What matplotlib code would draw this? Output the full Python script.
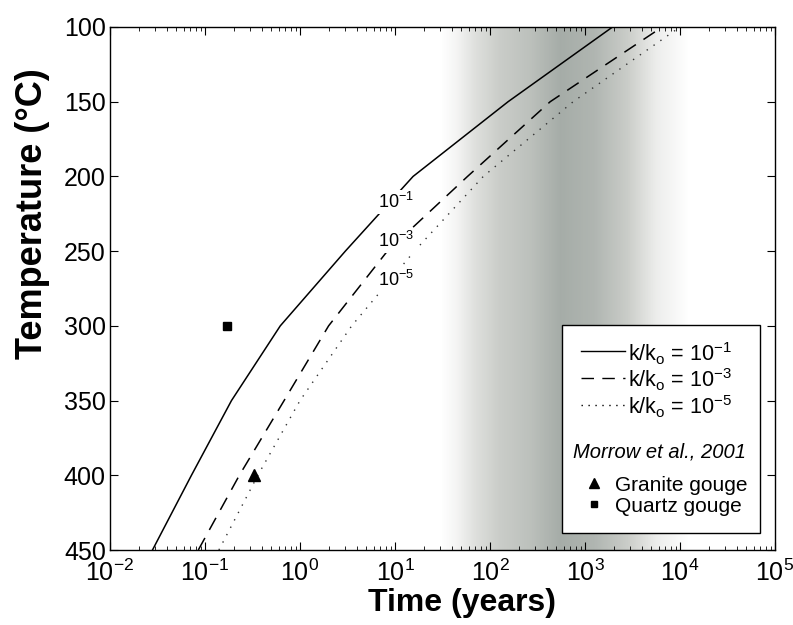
import numpy as np
import matplotlib
matplotlib.use("Agg")
import matplotlib.pyplot as plt
from matplotlib.colors import LinearSegmentedColormap
from matplotlib.patches import Rectangle
from matplotlib.lines import Line2D

plt.rcParams['font.family'] = ['Liberation Sans', 'DejaVu Sans']
plt.rcParams['mathtext.fontset'] = 'custom'
plt.rcParams['mathtext.rm'] = 'Liberation Sans'
plt.rcParams['mathtext.it'] = 'Liberation Sans:italic'
plt.rcParams['mathtext.bf'] = 'Liberation Sans:bold'

# temperatures (deg C) and times (years) for each permeability ratio
temps = [450, 400, 350, 300, 250, 200, 150, 100]
t_k1 = [0.028, 0.072, 0.19, 0.62, 3.0, 15.5, 155, 1950]
t_k3 = [0.085, 0.23, 0.68, 2.0, 8.3, 58, 430, 6500]
t_k5 = [0.14, 0.36, 1.0, 3.5, 16, 85, 750, 10000]

# Morrow et al., 2001 data
granite_t = [0.33]
granite_T = [400]
quartz_t = [0.17]
quartz_T = [300]

# grey band (log10 of time, darkness)
band_log = [1.48, 1.65, 1.85, 2.1, 2.42, 2.74, 3.1, 3.45, 3.75, 4.1]
band_dark = [0.0, 0.12, 0.35, 0.55, 0.68, 0.9, 0.8, 0.55, 0.2, 0.0]

fig = plt.figure(figsize=(7.93, 6.25), dpi=100)
ax = fig.add_axes([110/793, 75/625, 665/793, 523/625])

# shaded band
xe = np.linspace(band_log[0], band_log[-1], 400)
xc = 0.5 * (xe[1:] + xe[:-1])
dark = np.interp(xc, band_log, band_dark)
cmap = LinearSegmentedColormap.from_list('band', ['#ffffff', '#cfd1cd', '#9ba39e'])
ax.pcolormesh(10**xe, [100, 450], dark[None, :], cmap=cmap, vmin=0, vmax=1,
              shading='flat', antialiased=False, zorder=0)

ax.plot(t_k1, temps, color='black', lw=1.1, ls='-', zorder=2)
ax.plot(t_k3, temps, color='black', lw=1.1, ls=(0, (9, 6)), zorder=2)
ax.plot(t_k5, temps, color='#333333', lw=1.0, ls=(0, (1, 5)), zorder=2)

ax.plot(granite_t, granite_T, marker='^', color='black', ms=8, ls='none', zorder=3)
ax.plot(quartz_t, quartz_T, marker='s', color='black', ms=6, ls='none', zorder=3)

# curve labels
box = dict(facecolor='white', edgecolor='none', pad=1.5)
ax.text(6.6, 217, r'10$^{\mathregular{-1}}$', fontsize=13, ha='left', va='center', bbox=box, zorder=4)
ax.text(6.6, 243, r'10$^{\mathregular{-3}}$', fontsize=13, ha='left', va='center', bbox=box, zorder=4)
ax.text(6.6, 269, r'10$^{\mathregular{-5}}$', fontsize=13, ha='left', va='center', bbox=box, zorder=4)

ax.set_xscale('log')
ax.set_xlim(1e-2, 1e5)
ax.set_ylim(450, 100)
ax.set_yticks([100, 150, 200, 250, 300, 350, 400, 450])
ax.set_xticks([1e-2, 1e-1, 1e0, 1e1, 1e2, 1e3, 1e4, 1e5])
ax.tick_params(which='both', direction='in', top=True, right=True, labelsize=18)
ax.tick_params(which='major', length=6, width=0.8, pad=3)
ax.tick_params(axis='x', which='major', pad=7)
ax.tick_params(which='minor', length=3, width=0.6)
for s in ax.spines.values():
    s.set_linewidth(1.0)

ax.set_xlabel('Time (years)', fontsize=23, fontweight='bold')
ax.set_ylabel('Temperature (\u00b0C)', fontsize=26, fontweight='bold')
ax.xaxis.set_label_coords(0.53, -0.073)
ax.yaxis.set_label_coords(-0.09, 0.644)

# legend drawn by hand
tr = ax.transAxes
ax.add_patch(Rectangle((0.680, 0.0325), 0.297, 0.3975, transform=tr,
                       facecolor='white', edgecolor='black', lw=1.0, zorder=5))
leg_y = [0.380, 0.329, 0.277]
leg_ls = ['-', (0, (9, 6)), (0, (1, 4))]
leg_lab = [r'k/k$_\mathregular{o}$ = 10$^{\mathregular{-1}}$',
           r'k/k$_\mathregular{o}$ = 10$^{\mathregular{-3}}$',
           r'k/k$_\mathregular{o}$ = 10$^{\mathregular{-5}}$']
for y, ls, lab in zip(leg_y, leg_ls, leg_lab):
    ax.add_line(Line2D([0.709, 0.775], [y, y], transform=tr, color='black', lw=1.0, ls=ls, zorder=6))
    ax.text(0.779, y - 0.004, lab, transform=tr, fontsize=15.5, ha='left', va='center', zorder=6)
ax.text(0.827, 0.187, 'Morrow et al., 2001', transform=tr, fontsize=14.5, style='italic',
        ha='center', va='center', zorder=6)
ax.add_line(Line2D([0.728], [0.128], transform=tr, marker='^', color='black', ms=7, ls='none', zorder=6))
ax.text(0.759, 0.124, 'Granite gouge', transform=tr, fontsize=15, ha='left', va='center', zorder=6)
ax.add_line(Line2D([0.728], [0.087], transform=tr, marker='s', color='black', ms=5, ls='none', zorder=6))
ax.text(0.759, 0.084, 'Quartz gouge', transform=tr, fontsize=15, ha='left', va='center', zorder=6)

fig.savefig('out.png', dpi=100)
